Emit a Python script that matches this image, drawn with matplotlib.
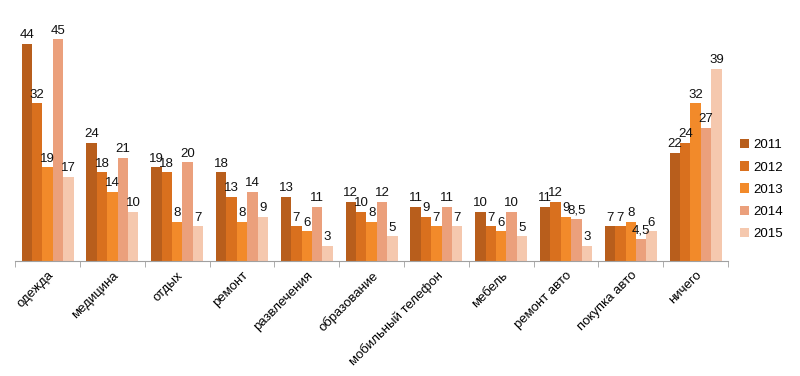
import matplotlib.pyplot as plt
import numpy as np

plt.rcParams['font.family'] = ['Liberation Sans', 'DejaVu Sans']

categories = ["одежда", "медицина", "отдых", "ремонт", "развлечения", "образование",
              "мобильный телефон", "мебель", "ремонт авто", "покупка авто", "ничего"]
years = ["2011", "2012", "2013", "2014", "2015"]
v2011 = [44, 24, 19, 18, 13, 12, 11, 10, 11, 7, 22]
v2012 = [32, 18, 18, 13, 7, 10, 9, 7, 12, 7, 24]
v2013 = [19, 14, 8, 8, 6, 8, 7, 6, 9, 8, 32]
v2014 = [45, 21, 20, 14, 11, 12, 11, 10, 8.5, 4.5, 27]
v2015 = [17, 10, 7, 9, 3, 5, 7, 5, 3, 6, 39]
series = [v2011, v2012, v2013, v2014, v2015]

colors = ["#B85E1C", "#D9701E", "#F28A2A", "#EBA07C", "#F5C8AE"]

fig = plt.figure(figsize=(8, 3.76), dpi=100)
ax = fig.add_axes([0.019, 0.306, 0.891, 0.655])

x = np.arange(len(categories))
w = 0.16
for i, (vals, col) in enumerate(zip(series, colors)):
    pos = x + (i - 2) * w
    bars = ax.bar(pos, vals, width=w, color=col, label=years[i], zorder=2)
    for b, v in zip(bars, vals):
        txt = f"{v:g}".replace(".", ",")
        ax.annotate(txt, (b.get_x() + b.get_width() / 2, v), xytext=(0, 2),
                    textcoords="offset points", ha="center", va="bottom",
                    fontsize=9.5, color="#111111")

ax.set_xlim(-0.5, len(categories) - 0.5)
ax.set_ylim(0, 50)
ax.set_yticks([])
for s in ["left", "right", "top"]:
    ax.spines[s].set_visible(False)
ax.spines["bottom"].set_color("#A0A0A0")

# category boundary ticks
ax.set_xticks(np.arange(len(categories) + 1) - 0.5, minor=True)
ax.tick_params(axis="x", which="minor", length=4, color="#A0A0A0")
ax.set_xticks(x)
ax.tick_params(axis="x", which="major", length=0, pad=6)
ax.set_xticklabels(categories, rotation=45, ha="right", va="top",
                   rotation_mode="anchor", fontsize=9.5)

ax.legend(loc="center left", bbox_to_anchor=(1.0, 0.29), frameon=False,
          fontsize=9.5, handlelength=0.7, handleheight=0.7, handletextpad=0.3,
          labelspacing=0.75)

fig.savefig("out.png", dpi=100)
